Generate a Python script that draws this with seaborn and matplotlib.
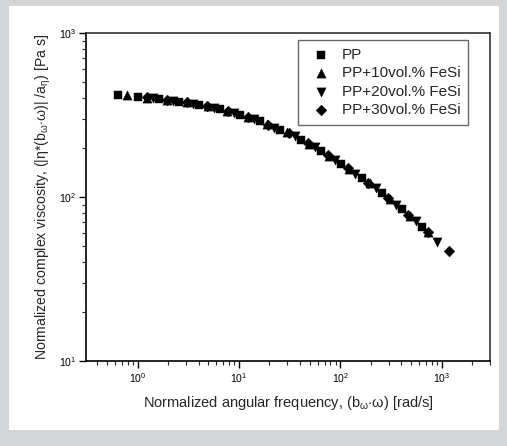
import numpy as np
import pandas as pd
import matplotlib
matplotlib.use('Agg')
import matplotlib.pyplot as plt
import seaborn as sns
from matplotlib.patches import Rectangle

# values
pp_x = [0.64, 1.02, 1.62, 2.57, 4.07, 6.45, 10.2, 16.2, 25.7, 40.7, 64.5, 102, 162, 257, 407, 645]
pp_y = [421, 409, 395, 380, 365, 343, 318, 289, 256, 224, 191, 160, 131, 106, 85, 66]

fe10_x = [0.78, 1.23, 1.95, 3.04, 4.9, 7.55, 12.3, 18.8, 29.6, 49, 77.6, 123, 195, 309, 490, 740]
fe10_y = [418, 404, 391, 377, 357, 336, 307, 279, 248, 211, 178, 148, 121, 97, 77, 61]

fe20_x = [1.41, 2.24, 3.55, 5.62, 8.91, 14.1, 22.4, 35.5, 56.2, 89.1, 141, 224, 355, 562, 894]
fe20_y = [399, 386, 370, 350, 326, 298, 265, 235, 201, 169, 139, 113, 90, 71, 53]

fe30_x = [1.23, 1.93, 3.1, 4.8, 7.8, 12.3, 19.5, 30.9, 48.3, 76.2, 120, 189, 298, 470, 740, 1183]
fe30_y = [405, 392, 377, 359, 336, 307, 276, 245, 212, 180, 150, 122, 99, 78, 61, 47]

labels = ['PP', 'PP+10vol.% FeSi', 'PP+20vol.% FeSi', 'PP+30vol.% FeSi']

df = pd.concat([
    pd.DataFrame({'w': pp_x, 'eta': pp_y, 'sample': labels[0]}),
    pd.DataFrame({'w': fe10_x, 'eta': fe10_y, 'sample': labels[1]}),
    pd.DataFrame({'w': fe20_x, 'eta': fe20_y, 'sample': labels[2]}),
    pd.DataFrame({'w': fe30_x, 'eta': fe30_y, 'sample': labels[3]}),
])

sns.set_style('ticks')
plt.rcParams['font.family'] = ['Liberation Sans', 'DejaVu Sans']
plt.rcParams['mathtext.fontset'] = 'custom'
plt.rcParams['mathtext.rm'] = 'Liberation Sans'
plt.rcParams['mathtext.it'] = 'Liberation Sans'

fig = plt.figure(figsize=(5.07, 4.46), dpi=100, facecolor='#d4d5d7')
fig.patches.append(Rectangle((9/507, 1-430/446), 490/507, 424/446, transform=fig.transFigure,
                             facecolor='white', edgecolor='none', zorder=-10))
ax = fig.add_axes([86/507, 1-361/446, 404/507, 328/446])
ax.set_zorder(5)

markers = {labels[0]: 's', labels[1]: '^', labels[2]: 'v', labels[3]: 'D'}
sizes = {labels[0]: 34, labels[1]: 44, labels[2]: 44, labels[3]: 30}
for lab in labels:
    sub = df[df['sample'] == lab]
    sns.scatterplot(data=sub, x='w', y='eta', marker=markers[lab], s=sizes[lab],
                    color='black', edgecolor='black', linewidth=0.3, label=lab, ax=ax)

ax.set_xscale('log')
ax.set_yscale('log')
ax.set_xlim(0.31, 3000)
ax.set_ylim(10, 1000)

for s in ax.spines.values():
    s.set_linewidth(1.2)
    s.set_color('black')
ax.spines['top'].set_color('#333333')
ax.spines['right'].set_color('#333333')

ax.tick_params(axis='both', which='major', direction='out', length=5, width=1,
               labelsize=7.5, colors='black', pad=2)
ax.tick_params(axis='both', which='minor', direction='out', length=3, width=0.8)
ax.tick_params(which='both', top=False, right=False)

ax.set_xlabel(r'Normalized angular frequency, (b$_{\omega}$$\cdot\omega$) [rad/s]', fontsize=10.5, labelpad=7)
ax.set_ylabel(r'Normalized complex viscosity, (|$\eta$*(b$_{\omega}$$\cdot\omega$)| /a$_{\eta}$) [Pa s]',
              fontsize=10.2, labelpad=4)

leg = ax.legend(loc='upper right', bbox_to_anchor=(0.946, 0.979), borderaxespad=0,
                fancybox=False, frameon=True, edgecolor='#444444', fontsize=11,
                handletextpad=0.4, labelspacing=0.3, borderpad=0.5, markerscale=1.0)
leg.get_frame().set_linewidth(1.0)

fig.savefig('out.png', dpi=100, facecolor=fig.get_facecolor())
